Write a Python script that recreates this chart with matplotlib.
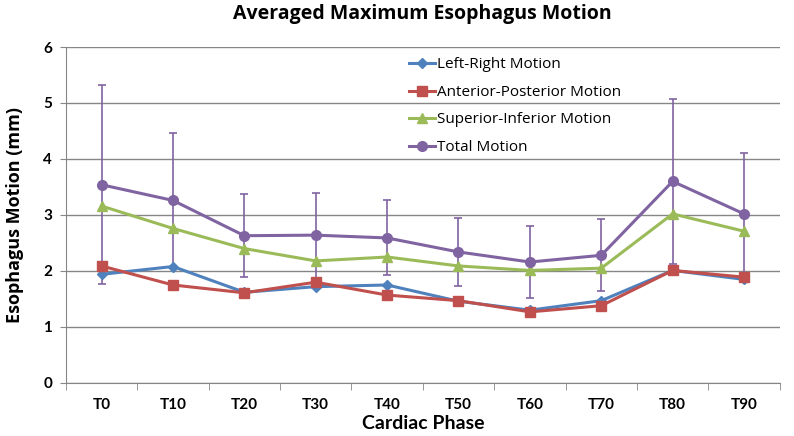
import matplotlib.pyplot as plt
import numpy as np

phases = ['T0', 'T10', 'T20', 'T30', 'T40', 'T50', 'T60', 'T70', 'T80', 'T90']
left_right = [1.94, 2.08, 1.62, 1.72, 1.75, 1.46, 1.30, 1.47, 2.01, 1.85]
ant_post = [2.09, 1.75, 1.61, 1.80, 1.57, 1.47, 1.27, 1.38, 2.01, 1.89]
sup_inf = [3.16, 2.76, 2.40, 2.18, 2.25, 2.09, 2.01, 2.05, 3.02, 2.71]
total = [3.54, 3.26, 2.63, 2.64, 2.59, 2.34, 2.16, 2.28, 3.60, 3.02]
total_err = [1.78, 1.21, 0.74, 0.76, 0.67, 0.60, 0.65, 0.64, 1.48, 1.09]

plt.rcParams['font.family'] = ['Liberation Sans Narrow', 'Lato', 'DejaVu Sans']

fig = plt.figure(figsize=(7.94, 4.36), dpi=100)
ax = fig.add_axes([0.083, 0.1216, 0.899, 0.7706])
x = np.arange(len(phases))

ax.errorbar(x, total, yerr=total_err, fmt='none', ecolor='#8064A2', elinewidth=1.2,
            capsize=3, capthick=1.2, zorder=2)
ax.plot(x, left_right, color='#4F81BD', marker='D', markersize=5, linewidth=2.2,
        label='Left-Right Motion', zorder=3)
ax.plot(x, ant_post, color='#C0504D', marker='s', markersize=7, linewidth=2.2,
        label='Anterior-Posterior Motion', zorder=3)
ax.plot(x, sup_inf, color='#9BBB59', marker='^', markersize=7, linewidth=2.2,
        label='Superior-Inferior Motion', zorder=3)
ax.plot(x, total, color='#8064A2', marker='o', markersize=7, linewidth=2.2,
        label='Total Motion', zorder=3)

ax.set_xlim(-0.5, len(phases) - 0.5)
ax.set_ylim(0, 6)
ax.set_yticks(range(0, 7))
ax.set_xticks(x)
ax.set_xticklabels(phases)
ax.set_xticks(np.arange(-0.5, len(phases)), minor=True)
ax.tick_params(axis='x', which='major', length=0, pad=11)
ax.tick_params(axis='x', which='minor', length=5, color='#868686')
ax.tick_params(axis='y', length=4, color='#868686', pad=6)
for lab in ax.get_xticklabels() + ax.get_yticklabels():
    lab.set_fontweight('bold')
    lab.set_fontsize(11)

ax.grid(axis='y', color='#868686', linewidth=1)
ax.set_axisbelow(True)
for s in ['top', 'right']:
    ax.spines[s].set_visible(False)
ax.spines['left'].set_color('#868686')
ax.spines['bottom'].set_color('#868686')

ax.set_title('Averaged Maximum Esophagus Motion', fontsize=14, fontweight='bold',
             family=['Open Sans', 'DejaVu Sans'], pad=20)
ax.set_xlabel('Cardiac Phase', fontsize=14, fontweight='bold', labelpad=2)
ax.set_ylabel('Esophagus Motion (mm)', fontsize=13, fontweight='bold',
              family=['Open Sans', 'DejaVu Sans'], labelpad=14)

ax.legend(loc='upper left', bbox_to_anchor=(0.462, 1.01), frameon=False,
          labelspacing=0.82, handlelength=1.7, handletextpad=0.1,
          prop={'family': ['Open Sans', 'DejaVu Sans'], 'size': 11})

plt.savefig('out.png', dpi=100)
